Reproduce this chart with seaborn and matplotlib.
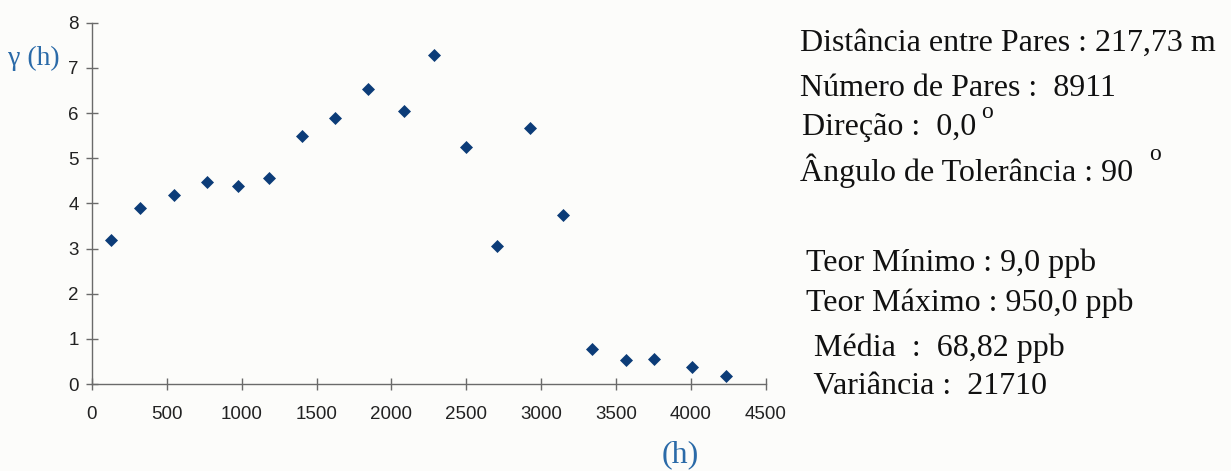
import matplotlib
matplotlib.use("Agg")
import matplotlib.pyplot as plt
import seaborn as sns
import pandas as pd

# Data
lag_h = [127, 323, 546, 770, 975, 1180, 1401, 1625, 1846, 2082,
         2285, 2501, 2708, 2924, 3146, 3342, 3565, 3754, 4008, 4235]
gamma = [3.19, 3.90, 4.19, 4.47, 4.39, 4.57, 5.49, 5.88, 6.54, 6.05,
         7.28, 5.24, 3.05, 5.66, 3.75, 0.77, 0.54, 0.55, 0.38, 0.18]
x_ticks = [0, 500, 1000, 1500, 2000, 2500, 3000, 3500, 4000, 4500]
y_ticks = [0, 1, 2, 3, 4, 5, 6, 7, 8]
info_top = ["Distância entre Pares : 217,73 m",
            "Número de Pares :  8911",
            "Direção :  0,0",
            "Ângulo de Tolerância : 90"]
info_bottom = ["Teor Mínimo : 9,0 ppb",
               "Teor Máximo : 950,0 ppb",
               " Média  :  68,82 ppb",
               " Variância :  21710"]

sns.set_style("white")
plt.rcParams['font.family'] = ['Liberation Sans', 'DejaVu Sans']

bg = "#fcfcfa"
fig = plt.figure(figsize=(12.31, 4.71), dpi=100, facecolor=bg)
ax = fig.add_axes([0.0747, 0.1847, 0.5473, 0.7671], facecolor=bg)

df = pd.DataFrame({"h": lag_h, "g": gamma})
sns.scatterplot(data=df, x="h", y="g", marker="D", s=44, color="#0c3c78",
                edgecolor="#0c3c78", linewidth=0, ax=ax, zorder=3)

ax.set_xlim(0, 4500)
ax.set_ylim(0, 8)
ax.set_xticks(x_ticks)
ax.set_yticks(y_ticks)
ax.set_xticklabels([str(v) for v in x_ticks])
ax.set_yticklabels([str(v) for v in y_ticks])
ax.set_xlabel("")
ax.set_ylabel("")
for side in ["top", "right"]:
    ax.spines[side].set_visible(False)
for side in ["left", "bottom"]:
    ax.spines[side].set_color("#6a6a6a")
    ax.spines[side].set_linewidth(1.0)
ax.tick_params(axis="both", which="major", bottom=True, left=True,
               direction="inout", length=9, width=1.0,
               color="#6a6a6a", labelsize=13.5, labelcolor="#222222")
ax.tick_params(axis="x", pad=11)
ax.tick_params(axis="y", pad=5)
for c in ax.collections:
    c.set_clip_on(False)

serif = ['Liberation Serif', 'DejaVu Serif']
fig.text(8 / 1231, 1 - 58 / 471, "γ (h)", family=serif, fontsize=20,
         color="#2a6aa8", ha="left", va="center")
fig.text(680 / 1231, 1 - 455 / 471, "(h)", family=serif, fontsize=23,
         color="#2a6aa8", ha="center", va="center")

top_y = [43, 88, 128, 171]
top_x = [800, 800, 802, 800]
for t, x, y in zip(info_top, top_x, top_y):
    fig.text(x / 1231, 1 - y / 471, t, family=serif, fontsize=23,
             color="#111111", ha="left", va="center")
# degree-like superscripts
fig.text(987 / 1231, 1 - 113 / 471, "o", family=serif, fontsize=17,
         color="#111111", ha="center", va="center")
fig.text(1155 / 1231, 1 - 155 / 471, "o", family=serif, fontsize=17,
         color="#111111", ha="center", va="center")

bot_y = [263, 303, 348, 387]
bot_x = [806, 806, 806, 806]
for t, x, y in zip(info_bottom, bot_x, bot_y):
    fig.text(x / 1231, 1 - y / 471, t, family=serif, fontsize=23,
             color="#111111", ha="left", va="center")

fig.savefig("out.png", dpi=100, facecolor=bg)
